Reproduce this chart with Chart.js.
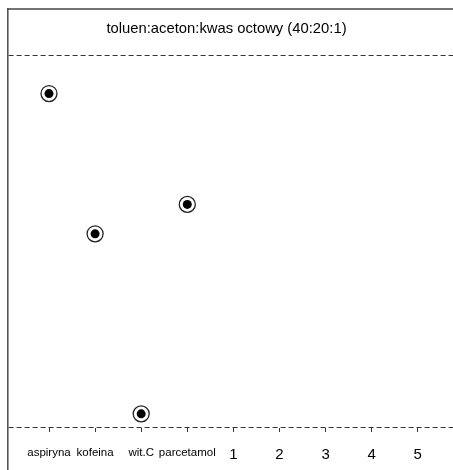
<!DOCTYPE html>
<html>
<head>
<meta charset="utf-8">
<script src="https://cdn.jsdelivr.net/npm/chart.js@4.4.1/dist/chart.umd.min.js"></script>
<style>
    html, body { margin: 0; padding: 0; background: #fff; }
</style>
</head>
<body>
<canvas id="plate" width="453" height="470"></canvas>
<script>
(function () {
    "use strict";

    // TLC plate: lanes along x, Rf along y
    const plateTitle = 'toluen:aceton:kwas octowy (40:20:1)';
    const laneLabels = ['aspiryna', 'kofeina', 'wit.C', 'parcetamol', '1', '2', '3', '4', '5'];
    const laneTicks = [1, 2, 3, 4, 5, 6, 7, 8, 9];
    const spotLanes = [1, 2, 3, 4];
    const spotRf = [0.899, 0.522, 0.038, 0.601];
    const plateLines = [0, 1]; // start line, solvent front

    const family = "'Liberation Sans', Arial, sans-serif";

    const spots = spotLanes.map((lane, i) => ({ x: lane, y: spotRf[i] }));

    const framePlugin = {
        id: 'plateFrame',
        beforeDatasetsDraw(chart) {
            const { ctx, chartArea } = chart;
            ctx.save();
            ctx.strokeStyle = '#444';
            ctx.lineWidth = 1.5;
            ctx.beginPath();
            ctx.moveTo(chartArea.left, chartArea.top);
            ctx.lineTo(chartArea.right, chartArea.top);
            ctx.stroke();

            ctx.fillStyle = '#000';
            ctx.font = '14.8px ' + family;
            ctx.textAlign = 'center';
            ctx.textBaseline = 'middle';
            ctx.fillText(plateTitle, chart.width / 2, chartArea.top + 19.5);
            ctx.restore();
        }
    };

    new Chart(document.getElementById('plate').getContext('2d'), {
        type: 'scatter',
        data: {
            datasets: [{
                data: spots,
                order: 1,
                pointRadius: 4.5,
                pointHoverRadius: 4.5,
                pointBackgroundColor: '#000',
                pointBorderWidth: 0
            }, {
                data: spots,
                order: 2,
                pointRadius: 8,
                pointHoverRadius: 8,
                pointBackgroundColor: '#fff',
                pointBorderColor: '#222',
                pointBorderWidth: 1.3
            }]
        },
        options: {
            responsive: false,
            animation: false,
            layout: {
                autoPadding: false,
                padding: { left: 7.5, top: 9, right: 0, bottom: 0 }
            },
            plugins: {
                legend: { display: false },
                tooltip: { enabled: false }
            },
            scales: {
                x: {
                    type: 'linear',
                    min: 0.0996,
                    max: 9.765,
                    position: { y: 0 },
                    afterBuildTicks: (scale) => {
                        scale.ticks = laneTicks.map(v => ({ value: v }));
                    },
                    ticks: {
                        autoSkip: false,
                        maxRotation: 0,
                        padding: 14,
                        color: '#000',
                        font: (c) => ({ family: family, size: c.index < 4 ? 11.5 : 15 }),
                        callback: (v) => laneLabels[laneTicks.indexOf(v)]
                    },
                    grid: {
                        drawOnChartArea: false,
                        drawTicks: true,
                        tickLength: 4,
                        tickColor: '#333'
                    },
                    border: { display: false }
                },
                y: {
                    type: 'linear',
                    min: -0.1129,
                    max: 1.1263,
                    afterBuildTicks: (scale) => {
                        scale.ticks = plateLines.map(v => ({ value: v }));
                    },
                    ticks: { display: false },
                    grid: {
                        drawTicks: false,
                        color: '#333',
                        lineWidth: 1
                    },
                    border: {
                        display: true,
                        color: '#555',
                        width: 1.6,
                        dash: [5, 3]
                    }
                }
            }
        },
        plugins: [framePlugin]
    });
})();
</script>
</body>
</html>
